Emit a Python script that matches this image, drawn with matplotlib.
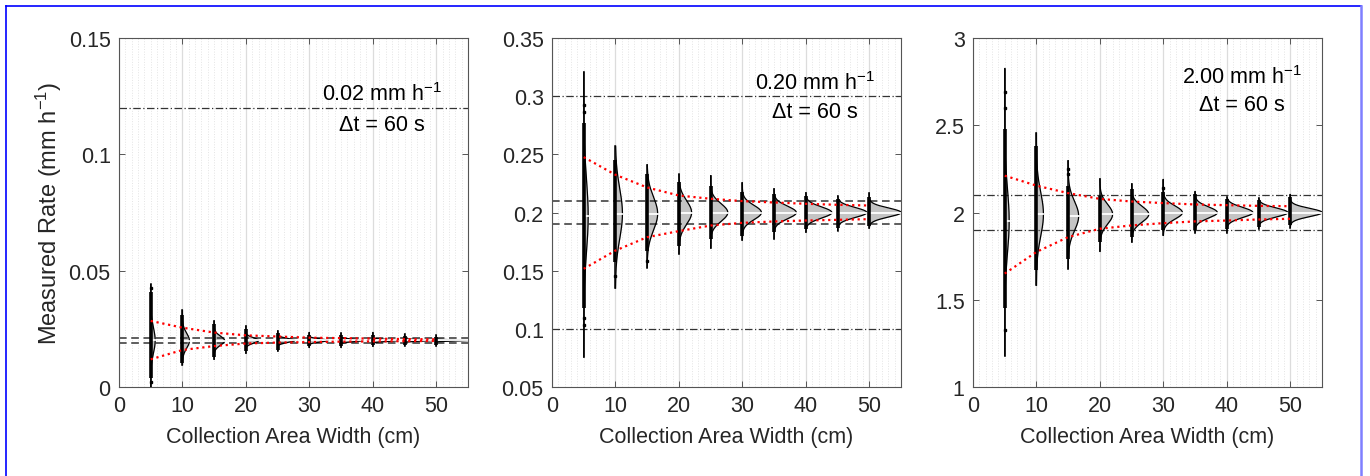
import numpy as np
import matplotlib
matplotlib.use("Agg")
import matplotlib.pyplot as plt
from matplotlib.lines import Line2D
from matplotlib.ticker import MultipleLocator, FuncFormatter

plt.rcParams['font.family'] = ['Liberation Sans', 'DejaVu Sans']
plt.rcParams['mathtext.fontset'] = 'custom'
plt.rcParams['mathtext.rm'] = 'Liberation Sans'
plt.rcParams['mathtext.default'] = 'regular'

# --------------------------------------------
# Data
# --------------------------------------------

widths = [5, 10, 15, 20, 25, 30, 35, 40, 45, 50]
violin_peak = [0.7, 1.1, 1.65, 2.0, 2.7, 3.0, 3.5, 4.1, 4.6, 5.0]

# 0.02 mm/h
p1_upper = [0.0284, 0.0255, 0.0234, 0.0222, 0.0217, 0.0212, 0.0210, 0.0208, 0.0206, 0.0205]
p1_lower = [0.0119, 0.0159, 0.0176, 0.0187, 0.0191, 0.0193, 0.0195, 0.0196, 0.0197, 0.0198]
p1_median = [0.0200, 0.0199, 0.0199, 0.0200, 0.0200, 0.0200, 0.0200, 0.0200, 0.0200, 0.0200]
p1_min = [0.0, 0.0095, 0.0119, 0.0145, 0.0155, 0.0170, 0.0170, 0.0175, 0.0177, 0.0177]
p1_max = [0.0441, 0.0330, 0.0284, 0.0262, 0.0241, 0.0234, 0.0231, 0.0234, 0.0227, 0.0222]
p1_core_lo = [0.004, 0.0105, 0.0130, 0.0155, 0.0160, 0.0175, 0.0178, 0.0180, 0.0180, 0.0182]
p1_core_hi = [0.041, 0.0308, 0.0270, 0.0250, 0.0230, 0.0225, 0.0222, 0.0222, 0.0220, 0.0217]
p1_out_x = [5, 5]
p1_out_y = [0.0425, 0.0020]

# 0.20 mm/h
p2_upper = [0.2476, 0.2324, 0.2215, 0.2146, 0.2118, 0.2098, 0.2086, 0.2075, 0.2066, 0.2060]
p2_lower = [0.1516, 0.1673, 0.1788, 0.1840, 0.1888, 0.1911, 0.1923, 0.1931, 0.1937, 0.1943]
p2_median = [0.197, 0.199, 0.199, 0.200, 0.200, 0.200, 0.200, 0.200, 0.200, 0.200]
p2_min = [0.0757, 0.135, 0.1527, 0.1645, 0.1694, 0.1763, 0.1774, 0.1831, 0.1845, 0.1866]
p2_max = [0.3207, 0.257, 0.241, 0.2327, 0.2316, 0.2255, 0.2204, 0.2170, 0.2141, 0.2167]
p2_core_lo = [0.118, 0.1573, 0.1673, 0.1716, 0.1774, 0.1802, 0.1831, 0.1860, 0.1866, 0.1888]
p2_core_hi = [0.277, 0.2447, 0.2333, 0.2261, 0.2232, 0.2175, 0.2161, 0.2146, 0.2118, 0.2132]
p2_out_x = [5, 5, 5, 5, 10, 15]
p2_out_y = [0.292, 0.286, 0.103, 0.109, 0.145, 0.158]

# 2.00 mm/h
p3_upper = [2.211, 2.154, 2.111, 2.078, 2.063, 2.054, 2.046, 2.042, 2.038, 2.036]
p3_lower = [1.650, 1.774, 1.859, 1.907, 1.926, 1.939, 1.949, 1.954, 1.960, 1.964]
p3_median = [1.95, 1.99, 1.98, 1.99, 1.99, 2.00, 2.00, 2.00, 2.00, 2.00]
p3_min = [1.179, 1.583, 1.678, 1.777, 1.831, 1.869, 1.884, 1.884, 1.907, 1.913]
p3_max = [2.825, 2.455, 2.297, 2.193, 2.164, 2.189, 2.120, 2.088, 2.082, 2.103]
p3_core_lo = [1.45, 1.669, 1.735, 1.831, 1.859, 1.897, 1.897, 1.907, 1.916, 1.926]
p3_core_hi = [2.478, 2.383, 2.154, 2.097, 2.135, 2.116, 2.107, 2.078, 2.069, 2.088]
p3_out_x = [5, 5, 5, 15, 15, 30]
p3_out_y = [2.688, 2.60, 1.326, 2.22, 2.25, 2.14]

rates = [0.02, 0.20, 2.00]
rate_labels = ["0.02 mm h$^{-1}$", "0.20 mm h$^{-1}$", "2.00 mm h$^{-1}$"]
ylims = [(0, 0.15), (0.05, 0.35), (1, 3)]
ysteps = [0.05, 0.05, 0.5]
text_pos = [(0.754, 0.84, 0.752), (0.754, 0.872, 0.789), (0.771, 0.89, 0.809)]

panels = [
    (p1_upper, p1_lower, p1_median, p1_min, p1_max, p1_core_lo, p1_core_hi, p1_out_x, p1_out_y),
    (p2_upper, p2_lower, p2_median, p2_min, p2_max, p2_core_lo, p2_core_hi, p2_out_x, p2_out_y),
    (p3_upper, p3_lower, p3_median, p3_min, p3_max, p3_core_lo, p3_core_hi, p3_out_x, p3_out_y),
]

ax_left = [119, 552, 973]
FS = 15.5

fig = plt.figure(figsize=(13.7, 4.77), dpi=100)

for i, (up, lo, med, mn, mx, clo, chi, ox, oy) in enumerate(panels):
    ax = fig.add_axes([ax_left[i] / 1370, (477 - 388) / 477, 349 / 1370, 349 / 477])
    ax.set_xlim(0, 55)
    ax.set_ylim(*ylims[i])

    r = rates[i]

    # tolerance lines: +/-5 % dashed, +/-0.1 mm/h dash-dot
    if abs(0.05 * r - 0.1) > 1e-9:
        for v in (r * 0.95, r * 1.05):
            ax.axhline(v, color='#333333', ls=(0, (5, 3)), lw=1.1, zorder=2)
    for v in (r - 0.1, r + 0.1):
        ax.axhline(v, color='#333333', ls=(0, (6, 2, 1, 2)), lw=0.9, zorder=2)

    for j, w in enumerate(widths):
        sd = (up[j] - lo[j]) / 3.0
        yy = np.linspace(mn[j], mx[j], 300)
        dens = np.exp(-0.5 * ((yy - med[j]) / sd) ** 2)
        xx = w + violin_peak[j] * dens
        ax.fill_betweenx(yy, w, xx, color='#c4c4c4', lw=0, zorder=1.5)
        ax.plot(xx, yy, color='black', lw=0.9, zorder=3)
        ax.plot([w, w + violin_peak[j]], [med[j], med[j]], color='white', lw=1.3, zorder=3.2)
        ax.plot([w, w], [mn[j], mx[j]], color='black', lw=1.1, zorder=4)
        ax.plot([w, w], [clo[j], chi[j]], color='black', lw=2.6, zorder=4,
                solid_capstyle='butt')

    ax.plot(ox, oy, ls='none', marker='s', ms=2.0, color='black', zorder=4)

    ax.plot(widths, up, color='red', ls=':', lw=1.6, zorder=5)
    ax.plot(widths, lo, color='red', ls=':', lw=1.6, zorder=5)

    ax.set_xticks([0, 10, 20, 30, 40, 50])
    ax.xaxis.set_minor_locator(MultipleLocator(1))
    ax.set_yticks(np.arange(ylims[i][0], ylims[i][1] + 1e-9, ysteps[i]))
    ax.yaxis.set_major_formatter(FuncFormatter(lambda v, p: '%g' % round(v, 6)))
    ax.grid(True, which='major', axis='x', color='#dcdcdc', lw=0.9, zorder=0)
    ax.grid(True, which='minor', axis='x', color='#e4e4e4', ls=':', lw=0.7, zorder=0)
    ax.set_axisbelow(True)
    ax.tick_params(which='major', direction='in', top=True, right=True, length=4,
                   width=0.7, color='#555555', labelsize=FS, labelcolor='#262626', pad=6)
    ax.tick_params(which='minor', length=0)
    for s in ax.spines.values():
        s.set_color('#555555')
        s.set_linewidth(0.8)

    ax.set_xlabel("Collection Area Width (cm)", fontsize=FS, color='#262626', labelpad=7)

    tx, ty1, ty2 = text_pos[i]
    ax.text(tx, ty1, rate_labels[i], transform=ax.transAxes, ha='center', va='center',
            fontsize=FS, color='black')
    ax.text(tx, ty2, "\u0394t = 60 s", transform=ax.transAxes, ha='center', va='center',
            fontsize=FS, color='black')

fig.text(49 / 1370, (477 - 213) / 477, "Measured Rate (mm h$^{-1}$)", rotation=90,
         ha='center', va='center', fontsize=17, color='#262626')

# blue frame around the figure
fig.add_artist(Line2D([6 / 1370, 6 / 1370], [0, 1 - 7 / 477], color='#0000ff', lw=1.2))
fig.add_artist(Line2D([6 / 1370, 1361 / 1370], [1 - 7 / 477, 1 - 7 / 477], color='#0000ff', lw=1.2))
fig.add_artist(Line2D([1361 / 1370, 1361 / 1370], [0, 1 - 7 / 477], color='#7f7fff', lw=1.8))

fig.savefig("out.png", dpi=100)
